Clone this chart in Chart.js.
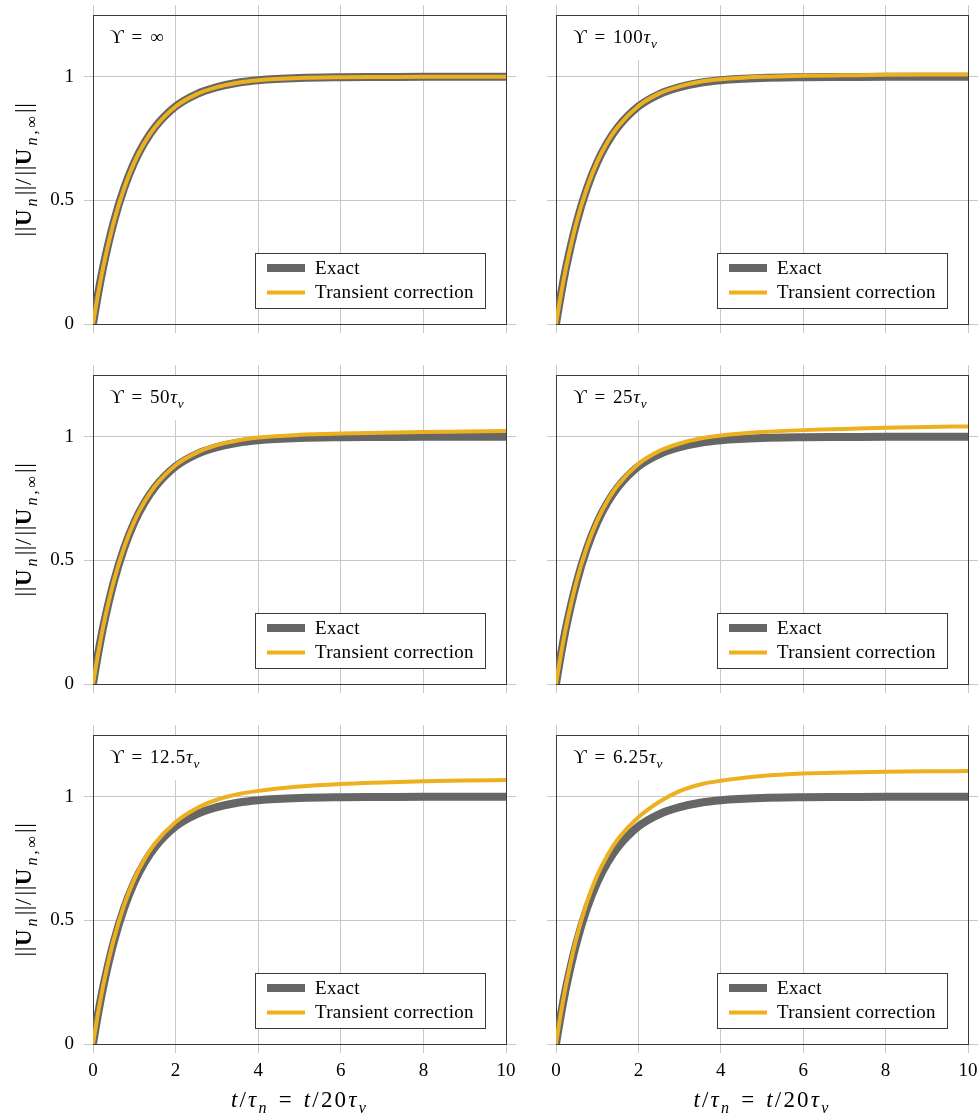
<!DOCTYPE html>
<html>
<head>
<meta charset="utf-8">
<script src="https://cdn.jsdelivr.net/npm/chart.js@4.4.1/dist/chart.umd.min.js"></script>
<style>
  body { margin: 0; background: #fff; }
  #wrap { position: relative; width: 978px; height: 1116px; }
  #wrap canvas { position: absolute; }
</style>
</head>
<body>
<div id="wrap"></div>
<script>
"use strict";

// time axis, t / tau_n
const tVals = [0, 0.1, 0.25, 0.5, 0.75, 1, 1.25, 1.5, 2, 2.5, 3, 3.5, 4, 5, 6, 7, 8, 9, 10];

// exact solution, same in every panel
const exact = [0, 0.100, 0.233, 0.411, 0.548, 0.654, 0.734, 0.796, 0.880, 0.929, 0.958, 0.976, 0.986, 0.995, 0.998, 0.999, 1.000, 1.000, 1.000];

// transient correction for each relaxation time
const corrInf  = [0, 0.100, 0.233, 0.411, 0.548, 0.654, 0.734, 0.796, 0.880, 0.929, 0.958, 0.976, 0.986, 0.995, 0.998, 0.999, 1.000, 1.000, 1.000];
const corr100  = [0, 0.101, 0.234, 0.413, 0.550, 0.656, 0.736, 0.798, 0.882, 0.932, 0.961, 0.980, 0.990, 1.000, 1.004, 1.006, 1.008, 1.009, 1.009];
const corr50   = [0, 0.101, 0.235, 0.414, 0.551, 0.658, 0.738, 0.800, 0.885, 0.935, 0.966, 0.985, 0.997, 1.008, 1.013, 1.016, 1.019, 1.021, 1.023];
const corr25   = [0, 0.102, 0.236, 0.416, 0.554, 0.661, 0.741, 0.804, 0.890, 0.942, 0.973, 0.993, 1.005, 1.019, 1.027, 1.032, 1.037, 1.040, 1.042];
const corr12_5 = [0, 0.104, 0.239, 0.421, 0.560, 0.667, 0.748, 0.811, 0.898, 0.953, 0.988, 1.010, 1.024, 1.042, 1.052, 1.058, 1.063, 1.066, 1.068];
const corr6_25 = [0, 0.107, 0.245, 0.431, 0.573, 0.682, 0.764, 0.828, 0.917, 0.979, 1.023, 1.050, 1.065, 1.084, 1.094, 1.098, 1.101, 1.103, 1.104];

const xTicks = [0, 2, 4, 6, 8, 10];
const yTicks = [0, 0.5, 1];
const seriesNames = ['Exact', 'Transient correction'];

// panel titles as text runs (i = italic, b = bold, sub = subscript, tight = no extra spacing)
const EQ = '\u2004=\u2004';
const upsilonLabels = [
  [{t: 'ϒ' + EQ + '∞'}],
  [{t: 'ϒ' + EQ + '100'}, {t: 'τ', i: 1}, {t: 'ν', i: 1, sub: 1}],
  [{t: 'ϒ' + EQ + '50'}, {t: 'τ', i: 1}, {t: 'ν', i: 1, sub: 1}],
  [{t: 'ϒ' + EQ + '25'}, {t: 'τ', i: 1}, {t: 'ν', i: 1, sub: 1}],
  [{t: 'ϒ' + EQ + '12.5'}, {t: 'τ', i: 1}, {t: 'ν', i: 1, sub: 1}],
  [{t: 'ϒ' + EQ + '6.25'}, {t: 'τ', i: 1}, {t: 'ν', i: 1, sub: 1}]
];
const corrections = [corrInf, corr100, corr50, corr25, corr12_5, corr6_25];

const yTitle = [
  {t: '||', tight: 1}, {t: 'U', b: 1}, {t: 'n', i: 1, sub: 1}, {t: '||', tight: 1}, {t: '/'},
  {t: '||', tight: 1}, {t: 'U', b: 1}, {t: 'n', i: 1, sub: 1}, {t: ',∞', sub: 1}, {t: '||', tight: 1}
];
const xTitle = [
  {t: 't', i: 1}, {t: '/'}, {t: 'τ', i: 1}, {t: 'n', i: 1, sub: 1},
  {t: EQ}, {t: 't', i: 1}, {t: '/20'}, {t: 'τ', i: 1}, {t: 'ν', i: 1, sub: 1}
];

const SERIF = "'Liberation Serif', 'DejaVu Serif', serif";
const GRAY = '#666666';
const ORANGE = '#EDB120';
const GRID = '#c8c8c8';
const FRAME = '#3a3a3a';

Chart.defaults.font.family = SERIF;
Chart.defaults.color = '#000';

function runFont(r, size) {
  const sz = r.sub ? size * 0.7 : size;
  return (r.i ? 'italic ' : '') + (r.b ? 'bold ' : '') + sz + 'px ' + SERIF;
}
function runsWidth(ctx, runs, size, ls) {
  let w = 0;
  runs.forEach(r => {
    ctx.font = runFont(r, size);
    ctx.letterSpacing = r.tight ? '0.6px' : ls;
    w += ctx.measureText(r.t).width;
  });
  return w;
}
function drawRuns(ctx, runs, x, y, size, ls) {
  ctx.textBaseline = 'alphabetic';
  ctx.textAlign = 'left';
  runs.forEach(r => {
    ctx.font = runFont(r, size);
    ctx.letterSpacing = r.tight ? '0.6px' : ls;
    ctx.fillText(r.t, x, r.sub ? y + size * 0.25 : y);
    x += ctx.measureText(r.t).width;
  });
  return x;
}

// labels, legend box and axis titles
const decor = {
  id: 'decor',
  afterDraw(chart, args, opts) {
    const ctx = chart.ctx;
    const a = chart.chartArea;
    ctx.save();

    // panel title in a white box
    const lw = runsWidth(ctx, opts.label, 19, '0.7px');
    const hasSub = opts.label.some(r => r.sub);
    ctx.fillStyle = '#fff';
    ctx.fillRect(a.left + 1, a.top + 1, lw + 25, hasSub ? 44 : 35);
    ctx.fillStyle = '#000';
    drawRuns(ctx, opts.label, a.left + 17, a.top + 28, 19, '0.7px');

    // legend
    const bx = a.right - 251, by = a.bottom - 71, bw = 230, bh = 55;
    ctx.fillStyle = '#fff';
    ctx.fillRect(bx, by, bw, bh);
    ctx.strokeStyle = FRAME;
    ctx.lineWidth = 1;
    ctx.strokeRect(Math.round(bx) + 0.5, Math.round(by) + 0.5, bw, bh);
    ctx.letterSpacing = '0.3px';
    chart.data.datasets.forEach((ds, k) => {
      const cy = by + 15 + k * 24.5;
      ctx.strokeStyle = ds.borderColor;
      ctx.lineWidth = ds.borderWidth;
      ctx.beginPath();
      ctx.moveTo(bx + 12, cy);
      ctx.lineTo(bx + 50, cy);
      ctx.stroke();
      ctx.fillStyle = '#000';
      ctx.font = '19px ' + SERIF;
      ctx.textBaseline = 'alphabetic';
      ctx.textAlign = 'left';
      ctx.fillText(ds.label, bx + 60, cy + 5.5);
    });

    // axis titles
    ctx.fillStyle = '#000';
    if (opts.yTitle) {
      const w = runsWidth(ctx, yTitle, 23, '3px');
      ctx.translate(31, (a.top + a.bottom) / 2);
      ctx.rotate(-Math.PI / 2);
      drawRuns(ctx, yTitle, -w / 2, 0, 23, '3px');
      ctx.setTransform(1, 0, 0, 1, 0, 0);
    }
    if (opts.xTitle) {
      const w = runsWidth(ctx, xTitle, 23, '2.2px');
      drawRuns(ctx, xTitle, (a.left + a.right) / 2 - w / 2, a.bottom + 63, 23, '2.2px');
    }
    ctx.restore();
  }
};

const cols = [
  {x: 0, w: 531, left: 93, right: 25},
  {x: 531, w: 447, left: 25, right: 10}
];
const rows = [
  {y: 0, h: 350, top: 15, bottom: 26},
  {y: 350, h: 360, top: 25, bottom: 26},
  {y: 710, h: 406, top: 25, bottom: 72}
];

function fixSize(prop, v) {
  return function (scale) {
    scale[prop] = v;
    scale.paddingTop = 0; scale.paddingBottom = 0;
    scale.paddingLeft = 0; scale.paddingRight = 0;
  };
}
function setTicks(vals) {
  return function (scale) { scale.ticks = vals.map(v => ({value: v})); };
}

const wrap = document.getElementById('wrap');

for (let p = 0; p < 6; p++) {
  const col = cols[p % 2];
  const row = rows[Math.floor(p / 2)];
  const showY = p % 2 === 0;
  const showX = p >= 4;

  const canvas = document.createElement('canvas');
  canvas.width = col.w;
  canvas.height = row.h;
  canvas.style.left = col.x + 'px';
  canvas.style.top = row.y + 'px';
  canvas.style.width = col.w + 'px';
  canvas.style.height = row.h + 'px';
  wrap.appendChild(canvas);

  const toXY = vals => vals.map((v, k) => ({x: tVals[k], y: v}));

  new Chart(canvas, {
    type: 'line',
    data: {
      datasets: [
        {
          label: seriesNames[0], data: toXY(exact),
          borderColor: GRAY, borderWidth: 8, order: 2
        },
        {
          label: seriesNames[1], data: toXY(corrections[p]),
          borderColor: ORANGE, borderWidth: 4, order: 1
        }
      ]
    },
    options: {
      responsive: false,
      animation: false,
      layout: {padding: 0, autoPadding: false},
      datasets: {
        line: {
          pointRadius: 0, fill: false, clip: 0,
          cubicInterpolationMode: 'monotone', borderCapStyle: 'butt'
        }
      },
      plugins: {
        legend: {display: false},
        tooltip: {enabled: false},
        decor: {label: upsilonLabels[p], yTitle: showY, xTitle: showX}
      },
      scales: {
        x: {
          type: 'linear', position: 'bottom', min: 0, max: 10,
          afterBuildTicks: setTicks(xTicks),
          afterFit: fixSize('height', row.bottom),
          grid: {color: GRID, tickLength: 9},
          border: {color: FRAME},
          ticks: {display: showX, padding: 7, font: {size: 19}, maxRotation: 0,
                  callback: v => String(v)}
        },
        xTop: {
          type: 'linear', position: 'top', min: 0, max: 10,
          afterBuildTicks: setTicks(xTicks),
          afterFit: fixSize('height', row.top),
          grid: {color: GRID, tickLength: 10, drawOnChartArea: false},
          border: {color: FRAME},
          ticks: {display: false}
        },
        y: {
          type: 'linear', position: 'left', min: 0, max: 1.25,
          afterBuildTicks: setTicks(yTicks),
          afterFit: fixSize('width', col.left),
          grid: {color: GRID, tickLength: 9},
          border: {color: FRAME},
          ticks: {display: showY, padding: 10, font: {size: 19},
                  callback: v => String(v)}
        },
        yRight: {
          type: 'linear', position: 'right', min: 0, max: 1.25,
          afterBuildTicks: setTicks(yTicks),
          afterFit: fixSize('width', col.right),
          grid: {color: GRID, tickLength: 10, drawOnChartArea: false},
          border: {color: FRAME},
          ticks: {display: false}
        }
      }
    },
    plugins: [decor]
  });
}
</script>
</body>
</html>
